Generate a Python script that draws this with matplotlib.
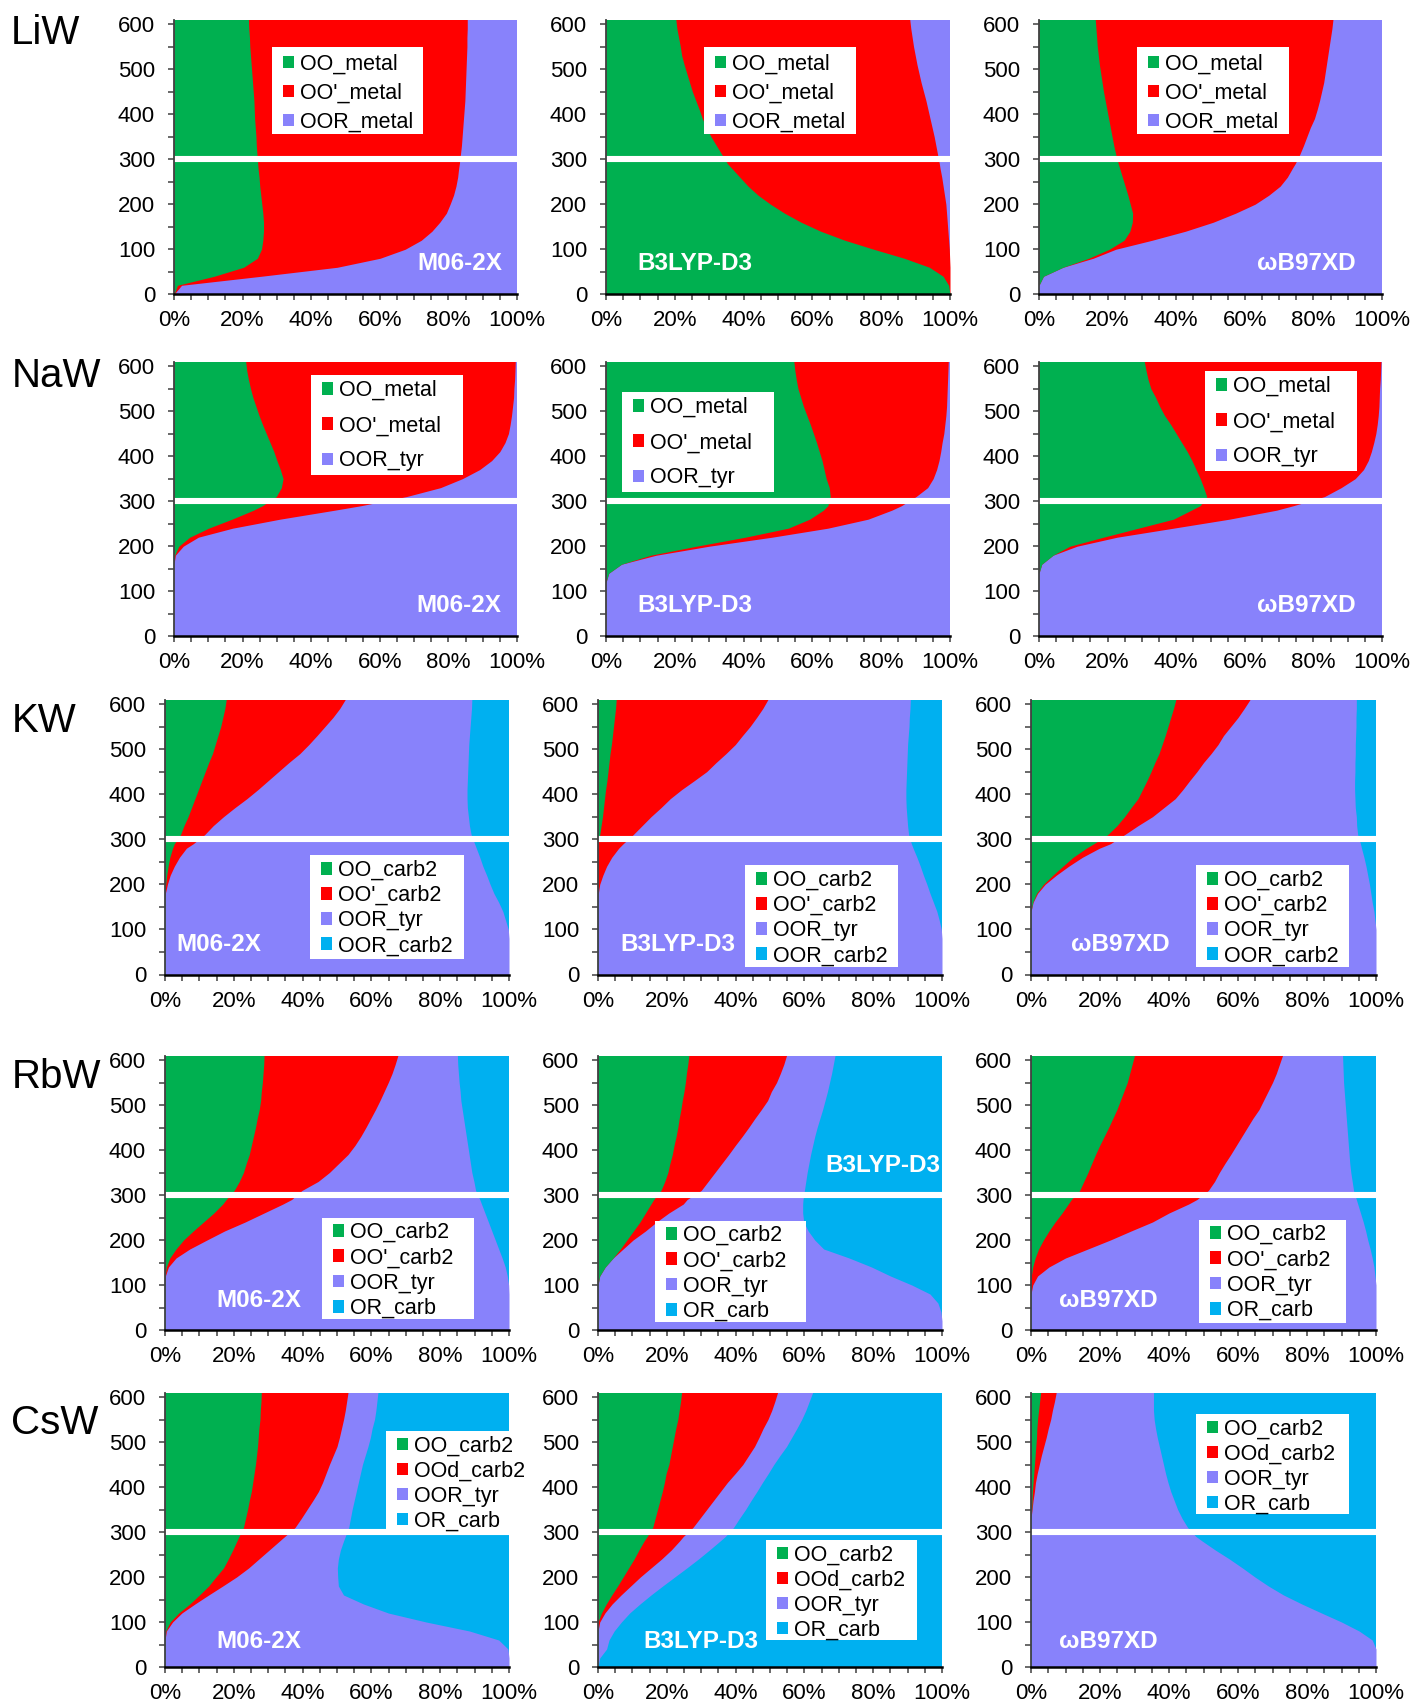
import matplotlib.pyplot as plt
import numpy as np
from matplotlib.patches import Patch, Rectangle

plt.rcParams['font.family'] = ['Liberation Sans', 'DejaVu Sans']

# temperature levels (K) at which the population edges were taken
temps = [0, 20, 40, 60, 80, 100, 120, 140, 160, 180, 200, 220, 240, 260, 280, 290,
         310, 330, 350, 370, 390, 410, 430, 450, 470, 490, 510, 530, 550, 570, 590, 610]

# cumulative % at each level: right edge of OO, OO', (OOR); the last series fills the rest
liw_m06_oo = [0, 1.0, 11.7, 20.3, 24.3, 25.5, 25.9, 26.1, 26.1, 25.9, 25.6, 25.3, 25.0, 24.8, 24.5, 24.4,
              24.2, 24.0, 23.9, 23.7, 23.5, 23.4, 23.3, 23.1, 22.9, 22.7, 22.5, 22.3, 22.1, 22.0, 21.8, 21.7]
liw_m06_oo2 = [0, 2.2, 25.4, 47.6, 60.1, 67.4, 72.1, 75.2, 77.5, 79.4, 80.5, 81.5, 82.2, 82.7, 83.0, 83.2,
               83.5, 83.8, 84.0, 84.2, 84.4, 84.6, 84.8, 84.9, 85.0, 85.1, 85.2, 85.3, 85.4, 85.4, 85.5, 85.5]

liw_b3_oo = [100, 99.6, 98.0, 94.0, 86.7, 77.8, 69.4, 62.4, 56.7, 51.9, 47.8, 44.2, 41.3, 38.9, 36.5, 35.3,
             33.7, 32.1, 30.5, 29.2, 28.0, 27.1, 26.1, 25.1, 24.3, 23.5, 22.7, 22.0, 21.6, 21.1, 20.6, 20.3]
liw_b3_oo2 = [100, 100, 100, 100, 99.9, 99.8, 99.6, 99.4, 99.2, 99.0, 98.8, 98.4, 98.0, 97.6, 97.1, 96.9,
              96.4, 95.9, 95.4, 94.8, 94.2, 93.6, 93.0, 92.3, 91.6, 91.0, 90.4, 89.9, 89.4, 89.0, 88.6, 88.3]

liw_wb_oo = [0, 0, 1.3, 7.0, 14.5, 20.5, 24.8, 26.5, 27.2, 27.3, 26.6, 25.9, 25.1, 24.3, 23.5, 23.1,
             22.4, 21.8, 21.3, 20.8, 20.3, 19.8, 19.3, 18.8, 18.4, 18.0, 17.6, 17.3, 17.0, 16.8, 16.6, 16.4]
liw_wb_oo2 = [0, 0, 1.3, 7.0, 15.8, 22.4, 33.0, 42.7, 50.8, 57.3, 63.0, 67.0, 70.3, 72.4, 73.9, 74.7,
              76.0, 77.1, 78.1, 79.1, 80.3, 81.1, 81.8, 82.4, 83.0, 83.4, 83.8, 84.2, 84.6, 85.0, 85.4, 85.7]

naw_m06_oo = [0, 0, 0, 0, 0, 0, 0, 0, 0, 0.2, 1.4, 4.6, 10.1, 16.9, 23.2, 25.8,
              29.8, 31.3, 31.8, 31.0, 30.0, 29.1, 28.0, 26.9, 25.8, 24.8, 23.9, 23.0, 22.3, 21.7, 21.2, 20.9]
naw_m06_oo2 = [0, 0, 0, 0, 0, 0, 0, 0, 0, 0.4, 2.7, 7.1, 17.1, 30.9, 46.9, 54.6,
               67.7, 77.7, 84.1, 89.1, 92.6, 95.0, 96.5, 97.5, 98.0, 98.4, 98.7, 99.0, 99.1, 99.3, 99.4, 99.5]

naw_b3_oo = [0, 0, 0, 0, 0, 0, 0, 0.8, 4.5, 13.0, 26.3, 40.5, 53.0, 59.2, 63.2, 64.5,
             65.2, 64.9, 64.0, 63.4, 62.8, 62.0, 61.2, 60.3, 59.4, 58.4, 57.4, 56.6, 55.8, 55.3, 54.9, 54.6]
naw_b3_oo2 = [0, 0, 0, 0, 0, 0, 0, 0.8, 4.5, 14.6, 30.0, 48.3, 64.5, 76.2, 83.1, 85.9,
              90.1, 93.5, 95.1, 96.1, 96.8, 97.3, 97.7, 98.2, 98.5, 98.8, 99.0, 99.1, 99.2, 99.3, 99.4, 99.5]

naw_wb_oo = [0, 0, 0, 0, 0, 0, 0, 0, 0.8, 4.1, 9.0, 18.8, 29.0, 39.2, 44.4, 47.0,
             48.9, 48.0, 47.0, 45.8, 44.6, 43.2, 41.6, 40.0, 38.4, 36.6, 35.2, 34.0, 32.6, 31.8, 31.2, 30.7]
naw_wb_oo2 = [0, 0, 0, 0, 0, 0, 0, 0, 0.8, 4.1, 11.1, 22.8, 39.2, 55.5, 69.3, 74.2,
              83.2, 88.1, 92.2, 94.6, 96.0, 96.9, 97.6, 98.2, 98.6, 98.9, 99.1, 99.2, 99.3, 99.5, 99.6, 99.7]

kw_m06_oo = [0, 0, 0, 0, 0, 0, 0, 0, 0, 0, 0.2, 0.5, 0.9, 1.4, 2.2, 2.7,
             4.5, 5.5, 6.7, 7.7, 8.7, 9.7, 10.7, 11.7, 12.7, 13.8, 14.6, 15.4, 16.2, 16.8, 17.4, 17.8]
kw_m06_oo2 = [0, 0, 0, 0, 0, 0, 0, 0, 0, 0.1, 0.7, 1.5, 2.7, 4.2, 6.2, 8.2,
              11.5, 14.0, 17.0, 20.3, 23.8, 27.0, 30.0, 33.0, 36.0, 39.2, 41.8, 44.2, 46.5, 48.8, 50.8, 52.4]
kw_m06_oor = [100, 100, 100, 100, 100, 99.8, 99.0, 98.2, 97.0, 95.6, 94.5, 93.5, 92.4, 91.5, 90.5, 90.0,
              89.0, 88.5, 88.2, 87.9, 87.8, 87.8, 87.9, 88.0, 88.1, 88.2, 88.3, 88.5, 88.7, 88.9, 89.1, 89.2]

kw_b3_oo = [0, 0, 0, 0, 0, 0, 0, 0, 0, 0, 0, 0, 0, 0, 0, 0,
            0.5, 0.9, 1.3, 1.6, 1.9, 2.2, 2.6, 2.9, 3.2, 3.5, 3.9, 4.2, 4.5, 4.8, 5.1, 5.3]
kw_b3_oo2 = [0, 0, 0, 0, 0, 0, 0, 0, 0, 0.1, 0.5, 1.4, 2.5, 4.0, 6.0, 7.3,
             10.2, 12.8, 15.4, 18.3, 21.0, 24.3, 28.0, 31.6, 34.3, 37.2, 39.9, 42.0, 44.2, 46.1, 47.9, 49.4]
kw_b3_oor = [100, 100, 100, 100, 100, 99.8, 99.2, 98.5, 97.5, 96.5, 95.6, 94.6, 93.7, 92.7, 91.6, 91.1,
             90.3, 90.0, 89.8, 89.6, 89.5, 89.5, 89.6, 89.7, 89.8, 89.9, 90.0, 90.2, 90.4, 90.5, 90.7, 90.8]

kw_wb_oo = [0, 0, 0, 0, 0, 0, 0, 0, 0.5, 1.6, 3.6, 6.3, 9.2, 12.2, 16.0, 18.2,
            22.2, 24.9, 27.1, 29.0, 31.0, 32.3, 33.6, 34.8, 35.9, 37.1, 38.0, 38.9, 39.7, 40.5, 41.3, 42.0]
kw_wb_oo2 = [0, 0, 0, 0, 0, 0, 0, 0, 0.6, 1.9, 4.1, 7.3, 10.9, 14.9, 19.8, 23.0,
             27.1, 31.0, 35.2, 38.5, 41.8, 44.0, 46.0, 48.1, 50.0, 52.2, 54.2, 55.8, 57.9, 60.0, 61.8, 63.5]
kw_wb_oor = [100, 100, 100, 100, 100, 100, 99.7, 99.4, 98.9, 98.5, 98.1, 97.6, 97.1, 96.5, 95.8, 95.5,
             94.7, 94.4, 94.3, 94.0, 93.9, 93.8, 93.8, 93.9, 93.9, 94.0, 94.0, 94.1, 94.2, 94.2, 94.3, 94.3]

rbw_m06_oo = [0, 0, 0, 0, 0, 0, 0, 0.4, 1.4, 3.2, 5.4, 8.2, 11.2, 14.2, 16.8, 17.8,
              20.1, 21.6, 22.8, 23.6, 24.5, 25.1, 25.7, 26.3, 26.8, 27.4, 27.8, 28.0, 28.3, 28.5, 28.7, 28.8]
rbw_m06_oo2 = [0, 0, 0, 0, 0, 0, 0.1, 1.0, 3.2, 7.2, 12.2, 17.3, 23.3, 28.8, 34.3, 36.8,
               39.8, 44.5, 47.8, 50.5, 53.2, 55.2, 56.9, 58.4, 59.8, 61.2, 62.5, 63.7, 64.9, 66.0, 66.9, 67.7]
rbw_m06_oor = [100, 100, 100, 100, 100, 99.9, 99.5, 98.9, 98.0, 97.0, 96.0, 95.0, 94.0, 93.0, 92.0, 91.5,
               90.3, 89.8, 89.2, 88.8, 88.4, 88.0, 87.6, 87.2, 86.8, 86.4, 86.0, 85.8, 85.5, 85.3, 85.1, 85.0]

rbw_b3_oo = [0, 0, 0, 0, 0, 0, 0.5, 2.1, 4.4, 6.5, 8.4, 10.3, 12.2, 13.8, 15.4, 16.2,
             18.3, 19.4, 20.3, 20.9, 21.6, 22.1, 22.7, 23.2, 23.6, 24.1, 24.5, 25.0, 25.4, 25.7, 26.1, 26.4]
rbw_b3_oo2 = [0, 0, 0, 0, 0, 0, 0.5, 2.1, 4.4, 7.3, 10.2, 13.8, 17.0, 20.6, 24.8, 25.9,
              30.0, 32.0, 34.0, 36.0, 38.0, 39.9, 41.9, 43.8, 45.6, 47.5, 49.3, 50.4, 51.9, 53.0, 54.0, 54.8]
rbw_b3_oor = [100, 100, 99.7, 98.8, 96.5, 91.2, 85.0, 79.5, 73.0, 65.6, 63.0, 61.1, 59.8, 59.5, 59.5, 59.6,
              60.0, 60.4, 60.8, 61.3, 61.8, 62.4, 63.0, 63.7, 64.5, 65.3, 66.0, 66.7, 67.3, 67.9, 68.4, 68.9]

rbw_wb_oo = [0, 0, 0, 0, 0, 0, 0.1, 0.5, 1.2, 2.2, 3.6, 5.2, 7.0, 9.0, 10.8, 11.7,
             14.1, 15.3, 16.5, 17.6, 18.7, 19.9, 21.2, 22.5, 23.7, 24.9, 25.9, 26.9, 27.9, 28.6, 29.3, 30.0]
rbw_wb_oo2 = [0, 0, 0, 0, 0, 0.5, 1.9, 5.2, 10.0, 16.5, 23.0, 29.0, 35.2, 40.0, 45.7, 48.1,
              51.4, 53.2, 54.6, 56.2, 57.9, 59.5, 61.1, 62.7, 64.3, 66.1, 67.4, 68.7, 70.0, 71.1, 72.0, 72.9]
rbw_wb_oor = [100, 100, 100, 100, 100, 100, 99.7, 99.4, 98.9, 98.3, 97.6, 97.0, 96.3, 95.5, 94.7, 94.3,
              93.5, 93.1, 92.7, 92.4, 92.2, 92.0, 91.8, 91.6, 91.4, 91.2, 91.0, 90.8, 90.6, 90.5, 90.4, 90.3]

csw_m06_oo = [0, 0, 0, 0, 0.2, 1.5, 4.0, 7.2, 10.0, 12.7, 14.8, 17.0, 18.4, 19.7, 20.9, 21.5,
              22.8, 23.4, 24.0, 24.5, 25.1, 25.5, 25.9, 26.3, 26.6, 26.9, 27.1, 27.3, 27.6, 27.7, 27.9, 28.0]
csw_m06_ood = [0, 0, 0, 0, 0.4, 2.2, 4.9, 8.7, 12.7, 16.8, 20.8, 24.3, 27.3, 30.3, 33.3, 34.8,
               37.8, 39.6, 41.3, 43.0, 44.6, 45.8, 46.8, 47.8, 48.9, 50.0, 50.7, 51.3, 51.9, 52.4, 52.8, 53.2]
csw_m06_oor = [100, 100, 99.7, 97.0, 88.5, 75.9, 64.9, 57.7, 51.9, 50.4, 50.2, 50.1, 50.4, 51.0, 51.9, 52.4,
               53.4, 53.9, 54.4, 55.0, 55.6, 56.2, 56.8, 57.4, 58.2, 59.0, 59.7, 60.2, 60.9, 61.3, 61.6, 61.9]

csw_b3_oo = [0, 0, 0, 0, 0, 0, 1.0, 2.4, 4.0, 5.7, 7.3, 8.9, 10.5, 11.9, 13.4, 14.3,
             15.9, 16.6, 17.3, 18.0, 18.7, 19.3, 19.8, 20.6, 21.1, 21.6, 22.1, 22.6, 23.2, 23.6, 24.0, 24.3]
csw_b3_ood = [0, 0, 0, 0, 0, 0.5, 2.0, 4.1, 6.7, 9.5, 12.3, 15.4, 18.5, 21.3, 23.7, 24.8,
              27.6, 29.6, 31.6, 33.6, 35.6, 37.6, 39.9, 42.1, 43.8, 45.5, 46.8, 48.0, 49.4, 50.5, 51.4, 52.2]
csw_b3_oor = [0, 0.5, 2.5, 3.2, 4.7, 6.8, 9.2, 12.2, 15.4, 18.8, 22.3, 25.8, 29.2, 32.4, 35.5, 37.0,
              39.4, 41.1, 42.9, 44.5, 46.2, 47.8, 49.5, 51.1, 52.9, 54.8, 56.3, 57.8, 59.2, 60.4, 61.4, 62.4]

csw_wb_oo = [0, 0, 0, 0, 0, 0, 0, 0, 0, 0, 0, 0, 0, 0, 0, 0,
             0, 0, 0.2, 0.3, 0.4, 0.6, 0.8, 1.0, 1.2, 1.4, 1.6, 1.7, 1.9, 2.2, 2.5, 2.8]
csw_wb_ood = [0, 0, 0, 0, 0, 0, 0, 0, 0, 0, 0, 0, 0, 0, 0, 0,
              0, 0, 0.3, 0.6, 1.0, 1.3, 1.8, 2.4, 3.0, 3.7, 4.4, 5.0, 5.7, 6.2, 6.8, 7.3]
csw_wb_oor = [100, 100, 100, 98.9, 95.1, 90.0, 84.2, 78.5, 73.2, 68.8, 64.9, 61.3, 57.5, 53.4, 49.6, 47.8,
              45.4, 43.8, 42.5, 41.5, 40.5, 39.7, 39.0, 38.4, 37.8, 37.2, 36.6, 36.1, 35.7, 35.5, 35.5, 35.5]

rows = ['LiW', 'NaW', 'KW', 'RbW', 'CsW']
methods = ['M06-2X', 'B3LYP-D3', 'ωB97XD']
row_labels = [
    ['OO_metal', "OO'_metal", 'OOR_metal'],
    ['OO_metal', "OO'_metal", 'OOR_tyr'],
    ['OO_carb2', "OO'_carb2", 'OOR_tyr', 'OOR_carb2'],
    ['OO_carb2', "OO'_carb2", 'OOR_tyr', 'OR_carb'],
    ['OO_carb2', 'OOd_carb2', 'OOR_tyr', 'OR_carb'],
]
row_edges = [
    [[liw_m06_oo, liw_m06_oo2], [liw_b3_oo, liw_b3_oo2], [liw_wb_oo, liw_wb_oo2]],
    [[naw_m06_oo, naw_m06_oo2], [naw_b3_oo, naw_b3_oo2], [naw_wb_oo, naw_wb_oo2]],
    [[kw_m06_oo, kw_m06_oo2, kw_m06_oor], [kw_b3_oo, kw_b3_oo2, kw_b3_oor],
     [kw_wb_oo, kw_wb_oo2, kw_wb_oor]],
    [[rbw_m06_oo, rbw_m06_oo2, rbw_m06_oor], [rbw_b3_oo, rbw_b3_oo2, rbw_b3_oor],
     [rbw_wb_oo, rbw_wb_oo2, rbw_wb_oor]],
    [[csw_m06_oo, csw_m06_ood, csw_m06_oor], [csw_b3_oo, csw_b3_ood, csw_b3_oor],
     [csw_wb_oo, csw_wb_ood, csw_wb_oor]],
]

GREEN, RED, PURPLE, CYAN = '#00B050', '#FF0000', '#8882FB', '#00B0F0'
COLORS = [GREEN, RED, PURPLE, CYAN]

# --- layout, in pixels of the 1414 x 1705 canvas ---
W, H = 1414, 1705
col_x = [[(174, 517), (606, 950), (1039, 1382)]] * 2 + [[(165, 509), (598, 942), (1031, 1376)]] * 3
row_y = [(24, 294.3), (366, 636.3), (704, 974.5), (1060, 1330), (1397, 1667)]  # y of 600 and 0
row_name_pos = [(11, 43.5), (12, 387), (12, 732), (12, 1088), (11, 1434)]

# white legend boxes: left, right, top, bottom (canvas pixels)
leg_box = [
    [(272, 423, 47, 134), (704, 856, 47, 134), (1137, 1289, 47, 134)],
    [(311, 463, 375, 475), (622, 774, 392, 492), (1205, 1357, 371, 471)],
    [(310, 464, 855, 959), (745, 898, 865, 967), (1196, 1349, 865, 967)],
    [(322, 474, 1218, 1319), (655, 806, 1221, 1322), (1199, 1346, 1220, 1323)],
    [(386, 533, 1431, 1529), (766, 917, 1540, 1640), (1196, 1349, 1414, 1514)],
]
leg_spacing = [0.37, 0.66, 0.19, 0.20, 0.19]
leg_inset = [(11, 6.5), (11, 5), (11, 5), (11, 4), (11, 4.5)]

# method tag: x, y (axes fraction), horizontal alignment
tag_pos = [
    [(0.958, 0.113, 'right'), (0.091, 0.113, 'left'), (0.922, 0.113, 'right')],
    [(0.955, 0.111, 'right'), (0.091, 0.111, 'left'), (0.922, 0.111, 'right')],
    [(0.033, 0.111, 'left'), (0.064, 0.111, 'left'), (0.117, 0.111, 'left')],
    [(0.150, 0.106, 'left'), (0.994, 0.601, 'right'), (0.082, 0.106, 'left')],
    [(0.150, 0.094, 'left'), (0.133, 0.094, 'left'), (0.082, 0.094, 'left')],
]

fig = plt.figure(figsize=(W / 100, H / 100), dpi=100)

for r, name in enumerate(rows):
    y600, y0 = row_y[r]
    top = y600 - (y0 - y600) / 600 * 9
    fig.text(row_name_pos[r][0] / W, 1 - row_name_pos[r][1] / H, name,
             fontsize=29, va='baseline', ha='left')
    labels = row_labels[r]
    colors = COLORS[:len(labels)]
    for c, method in enumerate(methods):
        x0, x1 = col_x[r][c]
        ax = fig.add_axes([x0 / W, 1 - y0 / H, (x1 - x0) / W, (y0 - top) / H])
        edges = row_edges[r][c]

        # paint from the last series back to the first so neighbours share exact borders
        ax.fill_betweenx(temps, 0, 100, color=colors[-1], lw=0)
        for edge, col in zip(reversed(edges), reversed(colors[:-1])):
            ax.fill_betweenx(temps, 0, edge, color=col, lw=0)

        ax.axhline(300, color='white', lw=4.4)

        ax.set_xlim(0, 100)
        ax.set_ylim(0, 609)
        ax.set_xticks(range(0, 101, 20))
        ax.set_xticks(range(0, 101, 5), minor=True)
        ax.set_xticklabels([f'{v}%' for v in range(0, 101, 20)])
        ax.set_yticks(range(0, 601, 100))
        ax.set_yticks(range(0, 601, 50), minor=True)
        ax.tick_params(which='both', direction='out', length=4.6, width=1.1,
                       color='#404040', labelsize=16)
        ax.tick_params(axis='y', pad=9)
        ax.tick_params(axis='x', pad=7)
        for side in ['top', 'right']:
            ax.spines[side].set_visible(False)
        ax.spines['left'].set_color('#404040')
        ax.spines['left'].set_linewidth(1.3)
        ax.spines['bottom'].set_color('black')
        ax.spines['bottom'].set_linewidth(1.8)

        # legend: plain white box, entries inset from its top-left corner
        bl, br, bt, bb = leg_box[r][c]
        ax.add_patch(Rectangle((bl / W, 1 - bb / H), (br - bl) / W, (bb - bt) / H,
                               transform=fig.transFigure, facecolor='white',
                               edgecolor='none', clip_on=False, zorder=4.5))
        dx, dy = leg_inset[r]
        handles = [Patch(facecolor=col, edgecolor='none') for col in colors]
        ax.legend(handles, labels, loc='upper left',
                  bbox_to_anchor=((bl + dx) / W, 1 - (bt + dy) / H),
                  bbox_transform=fig.transFigure, frameon=False,
                  borderaxespad=0, borderpad=0, fontsize=15.5,
                  handlelength=0.52, handleheight=0.52, handletextpad=0.25,
                  labelspacing=leg_spacing[r])

        tx, ty, ha = tag_pos[r][c]
        ax.text(tx, ty, method, transform=ax.transAxes, color='white',
                fontsize=17.5, fontweight='bold', ha=ha, va='center')

fig.savefig('out.png', dpi=100)
